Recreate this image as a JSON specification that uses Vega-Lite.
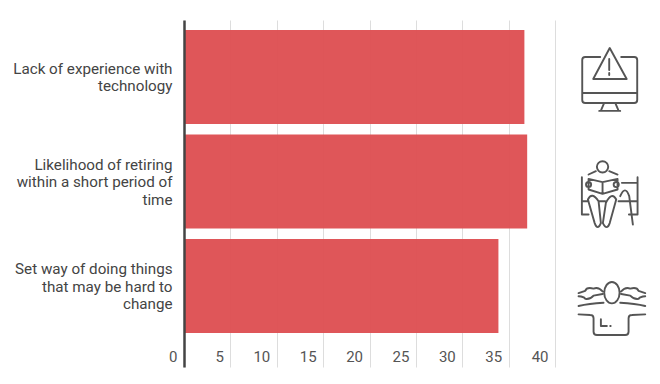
{"$schema":"https://vega.github.io/schema/vega-lite/v6.json","width":371,"height":347,"autosize":{"type":"none"},"padding":{"left":184,"top":20,"right":105,"bottom":17},"background":"white","config":{"view":{"stroke":null}},"data":{"values":[{"label":"Lack of experience with|technology","value":36.7,"icon":"monitor"},{"label":"Likelihood of retiring|within a short period of|time","value":37,"icon":"reader"},{"label":"Set way of doing things|that may be hard to|change","value":33.9,"icon":"worker"}]},"layer":[{"mark":{"type":"bar","color":"#de5154","opacity":0.97},"encoding":{"y":{"field":"label","type":"nominal","sort":null,"title":null,"scale":{"paddingInner":0.1,"paddingOuter":0.21,"align":0.227},"axis":{"zindex":1,"labelExpr":"split(datum.label,'|')","labelFont":"Roboto","labelFontSize":15.2,"labelColor":"#444444","labelLineHeight":17.5,"labelPadding":12,"labelLimit":300,"labelOffset":{"condition":{"test":"length(split(datum.label,'|'))==3","value":-17},"value":-8},"ticks":false,"domainColor":"#444444","domainWidth":2.5,"grid":false}},"x":{"field":"value","type":"quantitative","title":null,"scale":{"domain":[0,40],"nice":false},"axis":{"values":[0,5,10,15,20,25,30,35,40],"grid":true,"gridColor":"#dddddd","gridWidth":1,"domain":false,"ticks":false,"labelFont":"Roboto","labelFontSize":15,"labelColor":"#555555","labelAlign":"right","labelBaseline":"bottom","labelPadding":-3,"labelOffset":-7,"labelFlush":false,"labelOverlap":false}}}},{"mark":{"type":"point","filled":false,"stroke":"#555555","strokeWidth":1.9,"opacity":1,"strokeJoin":"round","strokeCap":"round"},"encoding":{"y":{"field":"label","type":"nominal","sort":null},"x":{"datum":45.9},"size":{"value":4096},"shape":{"field":"icon","type":"nominal","legend":null,"scale":{"domain":["monitor","reader","worker"],"range":["M-.297,-.625H-.766Q-.859,-.625,-.859,-.531V.719Q-.859,.8125,-.766,.8125H.766Q.859,.8125,.859,.719V-.531Q.859,-.625,.766,-.625H.359M-.859,.5H.859M-.172,.8125L-.266,1.03M.172,.8125L.266,1.03M-.328,1.06H.328M0,-.906L-.516,.0625H.53ZM-.016,-.5625V-.219M-.016,-.125V-.0625","M-.401,-.458A.177,.177,0,1,1,-.047,-.458A.177,.177,0,1,1,-.401,-.458M-.661,-.219L-.432,-.323M-.016,-.323L.245,-.219M-.661,-.083L-.224,.021L.245,-.083V.25L-.224,.385L-.661,.25ZM-.224,.021V.385M-.741,.094A.08,.08,0,1,1,-.581,.094A.08,.08,0,1,1,-.741,.094M.123,.094A.08,.08,0,1,1,.283,.094A.08,.08,0,1,1,.123,.094M-.87,-.135V1.03M.87,-.135V1.03M.38,.042H.87M-.87,.615H-.661M.276,.615H.87M-.349,.615H-.14M-.87,1.03H-.661M.6,1.03H.87M-.682,.5625Q-.557,.302,-.349,.615L-.276,1.3Q-.38,1.55,-.47,1.3ZM.203,.5625Q.068,.302,-.12,.667L-.214,1.3Q-.089,1.55,.0,1.3ZM.328,.458Q.484,.094,.609,.458L.724,1.344","M-.172,.208A.24,.333,0,1,1,.308,.208A.24,.333,0,1,1,-.172,.208M-.974,.22L-.766,.15Q-.72,.02,-.505,.08Q-.349,.02,-.224,.17M-.974,.32Q-.8,.33,-.766,.4Q-.6,.42,-.505,.3L-.224,.25M-.974,.625Q-.651,.542,-.193,.521M1.11,.22L.901,.15Q.85,.02,.641,.08Q.484,.02,.359,.17M1.11,.32Q.95,.33,.901,.4Q.75,.42,.641,.3L.359,.25M1.11,.625Q.797,.542,.328,.521M-.974,.885L-.609,.906Q-.505,.906,-.505,1.01V1.427Q-.505,1.53,-.4,1.53H.484Q.589,1.53,.589,1.427V1.01Q.589,.906,.693,.906L1.11,.885M-.276,1.04V1.25H-.089M.016,1.25H.03"]}}}}]}
